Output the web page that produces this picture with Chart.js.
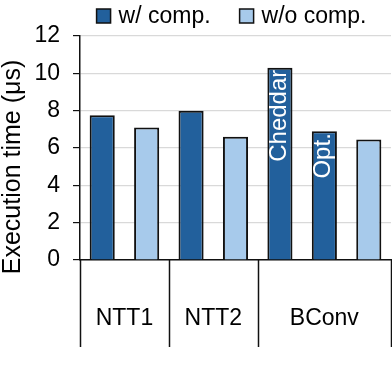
<!DOCTYPE html>
<html>
<head>
<meta charset="utf-8">
<script src="https://cdn.jsdelivr.net/npm/chart.js@4"></script>
<style>
  html, body { margin: 0; padding: 0; background: #fff; }
  #chart { display: block; }
</style>
</head>
<body>
<canvas id="chart" width="392" height="383"></canvas>
<script>
// ============================
// DATA
// ============================
const slotLabels = ["NTT1 a", "NTT1 b", "NTT2 a", "NTT2 b", "BConv a", "BConv b", "BConv c"];
const withComp    = [7.75, null, 8.0, null, 10.3, 6.9, null];
const withoutComp = [null, 7.1, null, 6.6, null, null, 6.45];
const barNotes    = [null, null, null, null, "Cheddar", "Opt.", null];
const groupNames  = ["NTT1", "NTT2", "BConv"];
const groupSizes  = [2, 2, 3];
const yTicks      = [0, 2, 4, 6, 8, 10, 12];
const seriesNames = ["w/ comp.", "w/o comp."];
const yTitle      = "Execution time (\u03bcs)";

const FONT = '"Liberation Sans", Arial, sans-serif';
const DARK = "#22609c";
const LIGHT = "#a7caeb";
const EDGE = "#111";

Chart.defaults.font.family = FONT;
Chart.defaults.color = "#000";

// ============================
// PLUGIN: legend, y title, group axis, bar notes
// ============================
const decor = {
  id: "decor",
  afterDatasetsDraw(chart){
    const ctx = chart.ctx;
    const meta = chart.getDatasetMeta(0);
    ctx.save();
    ctx.fillStyle = "#fff";
    ctx.font = "24px " + FONT;
    ctx.textAlign = "right";
    ctx.textBaseline = "middle";
    barNotes.forEach((note, i) => {
      if(!note) return;
      const el = meta.data[i];
      ctx.save();
      ctx.translate(el.x - 1, el.y + 2);
      ctx.rotate(-Math.PI/2);
      ctx.fillText(note, 0, 0);
      ctx.restore();
    });
    ctx.restore();
  },
  afterDraw(chart){
    const ctx = chart.ctx;
    const area = chart.chartArea;
    const xs = chart.scales.x;
    ctx.save();

    // group dividers + labels under the axis
    ctx.strokeStyle = EDGE;
    ctx.lineWidth = 1.5;
    ctx.fillStyle = "#000";
    ctx.font = "23px " + FONT;
    ctx.textAlign = "center";
    ctx.textBaseline = "middle";
    const half = (xs.getPixelForValue(1) - xs.getPixelForValue(0)) / 2;
    let start = 0;
    const edges = [];
    groupSizes.forEach((n, g) => {
      const left = xs.getPixelForValue(start) - half;
      const right = xs.getPixelForValue(start + n - 1) + half;
      edges.push(left);
      if(g === groupSizes.length - 1) edges.push(right);
      ctx.fillText(groupNames[g], (left + right) / 2, 319);
      start += n;
    });
    edges.forEach(x => {
      ctx.beginPath();
      ctx.moveTo(Math.round(x) + 0.5, area.bottom);
      ctx.lineTo(Math.round(x) + 0.5, 347);
      ctx.stroke();
    });

    // y title
    ctx.save();
    ctx.font = "25px " + FONT;
    ctx.translate(13, 167);
    ctx.rotate(-Math.PI/2);
    ctx.fillText(yTitle, 0, 0);
    ctx.restore();

    // legend
    ctx.font = "23px " + FONT;
    ctx.textAlign = "left";
    const box = 14, gap = 8, sep = 29;
    const colors = [DARK, LIGHT];
    const widths = seriesNames.map(s => ctx.measureText(s).width);
    const total = widths.reduce((a, w) => a + box + gap + w, 0) + sep;
    let x = (area.left + area.right) / 2 - total / 2 - 4;
    const cy = 16;
    seriesNames.forEach((s, i) => {
      ctx.fillStyle = colors[i];
      ctx.fillRect(x, cy - box/2, box, box);
      ctx.lineWidth = 1.5;
      ctx.strokeRect(x, cy - box/2, box, box);
      ctx.fillStyle = "#000";
      ctx.fillText(s, x + box + gap, cy + 1);
      x += box + gap + widths[i] + sep;
    });
    ctx.restore();
  }
};

// ============================
// CHART
// ============================
new Chart(document.getElementById("chart"), {
  type: "bar",
  data: {
    labels: slotLabels,
    datasets: [
      { label: seriesNames[0], data: withComp, backgroundColor: DARK, borderColor: EDGE, borderWidth: 2 },
      { label: seriesNames[1], data: withoutComp, backgroundColor: LIGHT, borderColor: EDGE, borderWidth: 2 }
    ]
  },
  options: {
    responsive: false,
    devicePixelRatio: 1,
    animation: false,
    layout: { padding: { top: 36, right: 1, left: 0, bottom: 0 } },
    datasets: { bar: { categoryPercentage: 1, barPercentage: 0.565 } },
    plugins: { legend: { display: false }, tooltip: { enabled: false } },
    scales: {
      x: {
        stacked: true,
        ticks: { display: false },
        grid: { display: false },
        border: { display: true, color: EDGE, width: 1.5 },
        afterFit: s => { s.height = 123; }
      },
      y: {
        min: 0,
        max: 12,
        afterBuildTicks: s => { s.ticks = yTicks.map(v => ({ value: v })); },
        ticks: { font: { size: 23 }, color: "#000", padding: 13 },
        grid: { color: "#d9d9d9", tickColor: EDGE, tickLength: 7, lineWidth: 1.2 },
        border: { display: true, color: EDGE, width: 1.5 },
        afterFit: s => { s.width = 80; }
      }
    }
  },
  plugins: [decor]
});
</script>
</body>
</html>
